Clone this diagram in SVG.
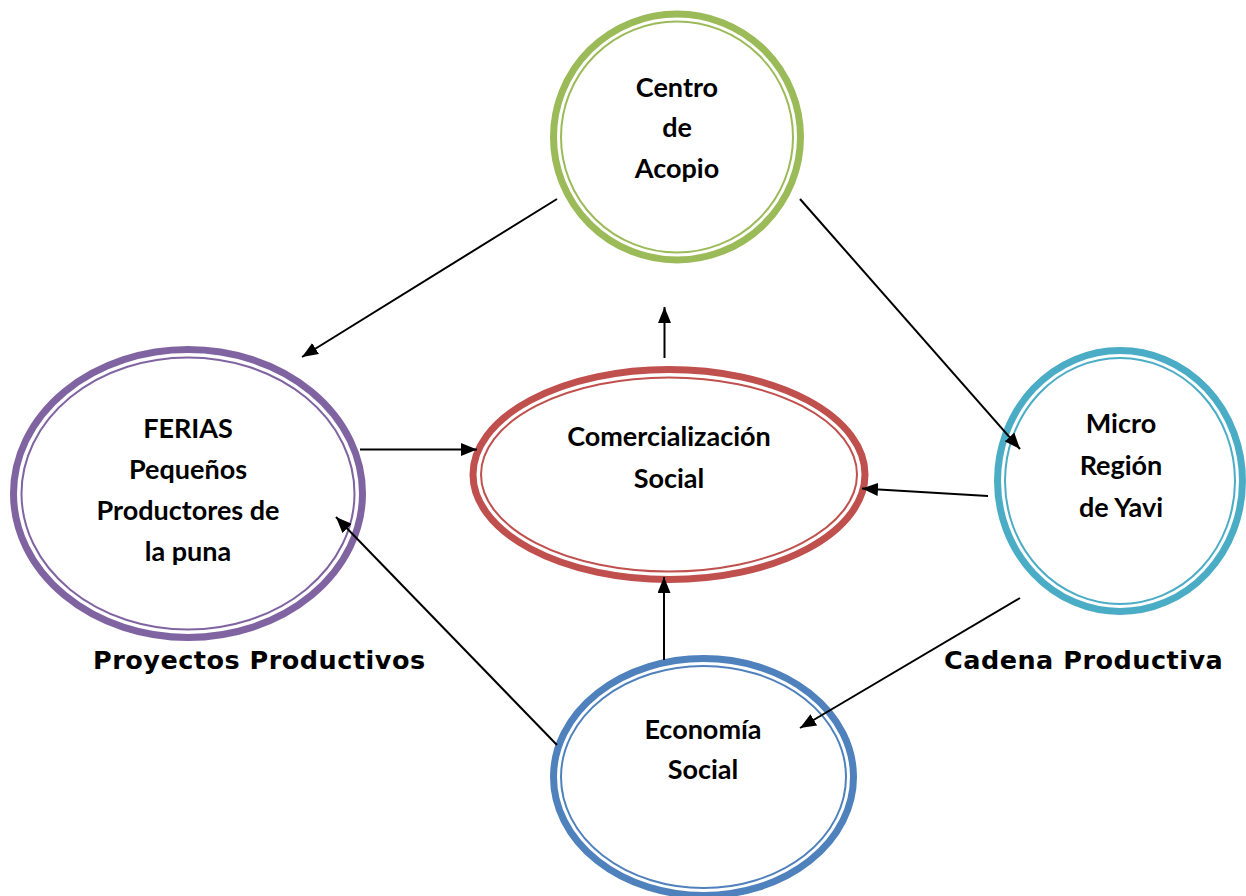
<svg xmlns="http://www.w3.org/2000/svg" width="1246" height="896" viewBox="0 0 1246 896">
<style>
.outer{fill:none;stroke-width:7}
.inner{fill:none;stroke-width:2}
.t{font-family:Lato,"Liberation Sans",sans-serif;font-weight:bold;font-size:27px;fill:#000;text-anchor:middle}
.lbl{font-family:"DejaVu Sans",Verdana,sans-serif;font-weight:bold;font-size:25.5px;letter-spacing:0.5px;fill:#000}
.c{stroke:#000;stroke-width:2;fill:none;marker-end:url(#ah)}
</style>
<defs>
<marker id="ah" viewBox="0 0 16 13" refX="16" refY="6.5" markerWidth="16" markerHeight="13" markerUnits="userSpaceOnUse" orient="auto">
<path d="M0,0 L16,6.5 L0,13 z" fill="#000"/>
</marker>
</defs>
<rect width="1246" height="896" fill="#fff"/>
<g id="centro">
<ellipse class="outer" cx="677" cy="137" rx="123.5" ry="123" stroke="#9BBB59"/>
<ellipse class="inner" cx="677" cy="137" rx="116" ry="115.5" stroke="#9BBB59"/>
<text class="t" x="677" y="97">Centro</text>
<text class="t" x="677" y="137">de</text>
<text class="t" x="677" y="178">Acopio</text>
</g>
<g id="ferias">
<ellipse class="outer" cx="188" cy="493.5" rx="174.5" ry="144" stroke="#8064A2"/>
<ellipse class="inner" cx="188" cy="493.5" rx="166.5" ry="136" stroke="#8064A2"/>
<text class="t" x="188" y="438">FERIAS</text>
<text class="t" x="188" y="479">Pequeños</text>
<text class="t" x="188" y="520">Productores de</text>
<text class="t" x="188" y="561">la puna</text>
</g>
<g id="comercializacion">
<ellipse class="outer" cx="669" cy="474.5" rx="196" ry="105" stroke="#C0504D"/>
<ellipse class="inner" cx="669" cy="474.5" rx="188" ry="97" stroke="#C0504D"/>
<text class="t" x="669" y="446">Comercialización</text>
<text class="t" x="669" y="488">Social</text>
</g>
<g id="microregion">
<ellipse class="outer" cx="1120" cy="481" rx="122.5" ry="130.5" stroke="#4BACC6"/>
<ellipse class="inner" cx="1120" cy="481" rx="115" ry="123" stroke="#4BACC6"/>
<text class="t" x="1121" y="433">Micro</text>
<text class="t" x="1121" y="475">Región</text>
<text class="t" x="1121" y="517">de Yavi</text>
</g>
<g id="economia">
<ellipse class="outer" cx="703.5" cy="777" rx="150" ry="118.5" stroke="#4F81BD"/>
<ellipse class="inner" cx="703.5" cy="777" rx="142.5" ry="111" stroke="#4F81BD"/>
<text class="t" x="703" y="739">Economía</text>
<text class="t" x="703" y="779">Social</text>
</g>
<g id="labels">
<text class="lbl" x="93" y="669">Proyectos Productivos</text>
<text class="lbl" x="944" y="669">Cadena Productiva</text>
</g>
<g id="connectors">
<line class="c" x1="557" y1="199" x2="302" y2="357"/>
<line class="c" x1="800" y1="199" x2="1020" y2="449"/>
<line class="c" x1="664.5" y1="358" x2="664.5" y2="307"/>
<line class="c" x1="360" y1="449.5" x2="477" y2="449.5"/>
<line class="c" x1="988" y1="496" x2="862" y2="488.5"/>
<line class="c" x1="664" y1="660" x2="664" y2="577"/>
<line class="c" x1="1020" y1="598" x2="800" y2="728"/>
<line class="c" x1="557" y1="745" x2="336" y2="517"/>
</g>
</svg>
